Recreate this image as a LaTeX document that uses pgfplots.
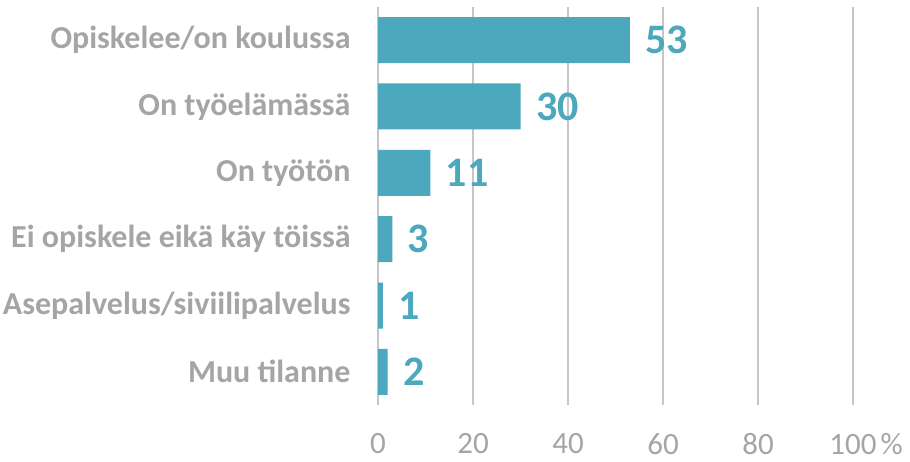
\documentclass[border=0pt]{standalone}
\usepackage{pgfplots}
\pgfplotsset{compat=1.18}
\usepackage{fontspec}
\setmainfont{Carlito}
\definecolor{bar}{HTML}{4BA8BD}
\definecolor{lab}{HTML}{A5A5A5}
\definecolor{grd}{HTML}{C6C6C6}
\begin{document}
\begin{tikzpicture}[x=1pt,y=1pt]
\useasboundingbox (0,0) rectangle (910,462);
\begin{axis}[at={(378pt,57pt)}, anchor=south west, scale only axis, width=475pt, height=398pt,
 xbar, bar width=46pt, xmin=0, xmax=100, ymin=-0.5, ymax=5.5, y dir=reverse,
 /pgf/number format/assume math mode=true,
 ytick={0,...,5}, yticklabels={Opiskelee/on koulussa, On työelämässä, On työtön, Ei opiskele eikä käy töissä, Asepalvelus/siviilipalvelus, Muu tilanne},
 xtick={0,20,...,100}, xticklabels={0,20,40,60,80,100\rlap{\hspace{4pt}\%}},
 xmajorgrids, grid style={grd, line width=1.5pt},
 axis line style={draw=none}, major tick length=0pt,
 yticklabel style={font=\bfseries\fontsize{32}{38}\selectfont, color=lab, xshift=-24pt},
 xticklabel style={font=\fontsize{31}{37}\selectfont, color=lab, yshift=-25pt},
 point meta=x,
 nodes near coords, nodes near coords style={font=\bfseries\fontsize{42}{50}\selectfont, color=bar, xshift=12pt},
 clip=false]
\addplot[fill=bar, draw=none] coordinates {(53,0) (30,1) (11,2) (3,3) (1,4) (2,5)};
\end{axis}
\end{tikzpicture}
\end{document}
